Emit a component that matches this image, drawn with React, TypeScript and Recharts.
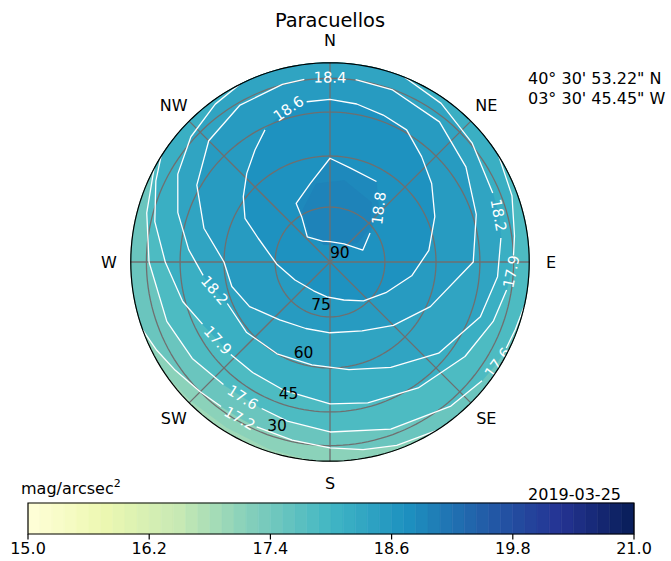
import React from 'react';
import { ScatterChart, Scatter, XAxis, YAxis, ReferenceArea } from 'recharts';

// sky positions are [azimuth deg, altitude deg]
type Pt = [number, number];

const TITLE = 'Paracuellos';
const LATITUDE = '40° 30\' 53.22" N';
const LONGITUDE = '03° 30\' 45.45" W';
const DATE = '2019-03-25';
const UNIT = 'mag/arcsec';

const HORIZON_ALT = 20;
const DIRECTIONS = ['N', 'NE', 'E', 'SE', 'S', 'SW', 'W', 'NW'];
const DIRECTION_AZ = [0, 45, 90, 135, 180, 225, 270, 315];
const RING_ALTS = [75, 60, 45, 30];
const RING_LABELS = [90, 75, 60, 45, 30];
const RING_LABEL_AZ = 200;

const CBAR_MIN = 15;
const CBAR_MAX = 21;
const CBAR_TICKS = [15.0, 16.2, 17.4, 18.6, 19.8, 21.0];
const CBAR_BANDS = 50;
const YLGNBU = ['#ffffd9', '#edf8b1', '#c7e9b4', '#7fcdbb', '#41b6c4', '#1d91c0', '#225ea8', '#253494', '#081d58'];

// contour lines; the point used for the inline label is part of each list
const C188: Pt[] = [[54, 76.5], [70, 80.5], [38, 83.8], [0, 84.5], [340, 84], [318, 80.8], [328, 75.4], [330, 71.4], [346, 67.5], [0, 60.7], [12, 63], [30, 64], [42, 70]];
const C186: Pt[] = [[351.7, 40.2], [0, 39.9], [9.6, 40.9], [19.9, 42.5], [30.1, 43.9], [41, 48.8], [52.3, 52.7], [66.6, 57.4], [83.3, 62], [99.6, 67], [118.8, 72.5], [139.2, 76], [160, 79], [185, 80.5], [209.7, 81], [242.8, 79.3], [267.9, 75.4], [288.3, 69.1], [297.2, 63.2], [307, 59.2], [316.8, 55], [326.2, 50.5], [333.8, 46], [344.8, 41.3]];
const C184: Pt[] = [[8, 29.7], [20, 30.3], [38, 33], [55, 38.5], [72, 43.5], [90, 47.5], [114, 58.8], [135, 65], [155, 69], [180, 70.5], [200, 70.5], [221, 68.8], [241, 64.3], [256, 61.5], [270, 60], [285, 52], [300, 43.5], [315, 36], [330, 31.5], [345, 29.8], [352, 29.5], [0, 29.3]];
const C182: Pt[] = [[22, 20], [35, 24], [50, 29], [67, 33.5], [74.5, 34.2], [82, 35.5], [95, 37.5], [110, 41], [130, 48], [150, 55], [170, 59], [190, 60.5], [210, 60], [230, 59], [248, 58.5], [256.3, 56], [264, 53], [275, 48], [288, 41], [300, 34], [312, 28], [324, 23], [333, 20]];
const C179: Pt[] = [[58, 20], [70, 24], [82, 28.5], [88, 30], [93, 31.3], [99, 32.5], [110, 35], [125, 39], [145, 43.5], [165, 46.5], [180, 48], [200, 50], [215, 50.5], [227, 50.2], [235.1, 49.9], [244, 48], [255, 44], [270, 39], [283, 32], [295, 25], [302, 20]];
const C176: Pt[] = [[103, 20], [110, 21.5], [116, 22.3], [121, 23], [128, 24.5], [140, 27.5], [160, 33], [180, 36.7], [195, 39], [205, 40.3], [212.8, 40.7], [221, 40], [235, 37.5], [250, 35], [270, 31.4], [285, 26.5], [298, 20]];
const C172: Pt[] = [[148, 20], [160, 23], [170, 26], [180, 28.7], [192, 30.8], [204, 31.7], [210, 31.8], [217, 31.4], [225, 30], [235, 27], [243, 23.5], [250, 20]];

// filled-only bands (no drawn line)
const F169: Pt[] = [[185, 20], [198, 22], [212, 23], [225, 22], [236, 20]];
const F189: Pt[] = [[10, 67], [35, 70], [50, 76], [55, 81], [20, 85], [340, 85], [325, 80], [332, 74], [350, 68]];

const CONTOURS = [
  { level: 18.8, pts: C188, labels: [12], closed: true },
  { level: 18.6, pts: C186, labels: [23], closed: true },
  { level: 18.4, pts: C184, labels: [21], closed: true },
  { level: 18.2, pts: C182, labels: [4, 15], closed: false },
  { level: 17.9, pts: C179, labels: [4, 14], closed: false },
  { level: 17.6, pts: C176, labels: [3, 10], closed: false },
  { level: 17.2, pts: C172, labels: [6], closed: false },
];

// band value painted above each boundary, lowest first
const FILLS = [
  { pts: F169, closed: false, value: 17.12 },
  { pts: C172, closed: false, value: 17.5 },
  { pts: C176, closed: false, value: 17.85 },
  { pts: C179, closed: false, value: 18.15 },
  { pts: C182, closed: false, value: 18.36 },
  { pts: C184, closed: true, value: 18.55 },
  { pts: C186, closed: true, value: 18.73 },
  { pts: C188, closed: true, value: 18.87 },
  { pts: F189, closed: true, value: 18.96 },
];
const DISC_VALUE = 16.92;

const FONT = '"DejaVu Sans", sans-serif';
const GRID = '#6f6f6f';

const hex = (c: string) => [1, 3, 5].map(i => parseInt(c.slice(i, i + 2), 16));
function cmap(v: number) {
  const t = Math.min(1, Math.max(0, (v - CBAR_MIN) / (CBAR_MAX - CBAR_MIN))) * (YLGNBU.length - 1);
  const i = Math.min(YLGNBU.length - 2, Math.floor(t));
  const f = t - i;
  const a = hex(YLGNBU[i]);
  const b = hex(YLGNBU[i + 1]);
  const c = a.map((x, k) => Math.round(x + (b[k] - x) * f));
  return `rgb(${c[0]},${c[1]},${c[2]})`;
}

const rad = (d: number) => (d * Math.PI) / 180;
const toXY = ([az, alt]: Pt) => {
  const r = Math.cos(rad(alt));
  return { x: r * Math.sin(rad(az)), y: r * Math.cos(rad(az)) };
};

function arc(alt: number, from: number, to: number): Pt[] {
  const out: Pt[] = [];
  for (let az = from; az < to; az += 2) out.push([az, alt]);
  out.push([to, alt]);
  return out;
}

function region(pts: Pt[], closed: boolean): Pt[] {
  if (closed) return pts;
  const a0 = pts[0][0];
  const a1 = pts[pts.length - 1][0];
  return [...pts, ...arc(HORIZON_ALT, a1, a0 + 360)];
}

function runs(pts: Pt[], labels: number[]): Pt[][] {
  const out: Pt[][] = [];
  let start = 0;
  labels.forEach(i => {
    out.push(pts.slice(start, i));
    start = i + 1;
  });
  if (start < pts.length) out.push(pts.slice(start));
  return out.filter(r => r.length > 1);
}

function labelAngle(a: Pt, b: Pt) {
  const p = toXY(a);
  const q = toXY(b);
  let deg = (Math.atan2(-(q.y - p.y), q.x - p.x) * 180) / Math.PI;
  if (deg > 90) deg -= 180;
  if (deg < -90) deg += 180;
  return deg;
}

const pathOf = (pts: { x: number; y: number }[], close: boolean) =>
  pts.map((p, i) => `${i ? 'L' : 'M'}${p.x},${p.y}`).join(' ') + (close ? ' Z' : '');

const noMarker = () => <g />;

function area(key: string, pts: Pt[], fill: string) {
  return (
    <Scatter
      key={key}
      data={pts.map(toXY)}
      isAnimationActive={false}
      shape={noMarker}
      line={(p: any) => <path d={pathOf(p.points, true)} fill={fill} stroke={fill} strokeWidth={0.6} />}
    />
  );
}

function polyline(key: string, pts: Pt[], stroke: string, width: number) {
  return (
    <Scatter
      key={key}
      data={pts.map(toXY)}
      isAnimationActive={false}
      shape={noMarker}
      line={(p: any) => (
        <path d={pathOf(p.points, false)} fill="none" stroke={stroke} strokeWidth={width} strokeLinejoin="round" />
      )}
    />
  );
}

const contourLabels = CONTOURS.flatMap(c =>
  c.labels.map(i => {
    const prev = c.pts[i - 1];
    const next = c.pts[i + 1] ?? c.pts[0];
    return { ...toXY(c.pts[i]), text: c.level.toFixed(1), angle: labelAngle(prev, next) };
  })
);

const compassData = DIRECTIONS.map((d, i) => {
  const a = rad(DIRECTION_AZ[i]);
  const r = 1.0425;
  return { x: r * Math.sin(a), y: r * Math.cos(a), text: d };
});

const ringLabelData = RING_LABELS.map(v => ({ ...toXY([RING_LABEL_AZ, v]), text: String(v) }));

const bands = Array.from({ length: CBAR_BANDS }, (_, i) => {
  const step = (CBAR_MAX - CBAR_MIN) / CBAR_BANDS;
  const x1 = CBAR_MIN + i * step;
  return { x1, x2: x1 + step, color: cmap(x1 + step / 2) };
});

const SkyMap = () => (
  <ScatterChart width={671} height={561} margin={{ top: 7.6, right: 86.6, bottom: 44.6, left: 75.6 }}>
    <XAxis type="number" dataKey="x" domain={[-1.2, 1.2]} hide />
    <YAxis type="number" dataKey="y" domain={[-1.2, 1.2]} hide />

    {area('disc', arc(HORIZON_ALT, 0, 360), cmap(DISC_VALUE))}
    {FILLS.map((f, i) => area(`fill-${i}`, region(f.pts, f.closed), cmap(f.value)))}

    {RING_ALTS.map(a => polyline(`ring-${a}`, arc(a, 0, 360), GRID, 1.3))}
    {DIRECTION_AZ.slice(0, 4).map(az =>
      polyline(`spoke-${az}`, [[az, HORIZON_ALT], [az + 180, HORIZON_ALT]], GRID, 1.3)
    )}

    {CONTOURS.flatMap(c => runs(c.pts, c.labels).map((r, j) => polyline(`c-${c.level}-${j}`, r, '#ffffff', 1.3)))}

    <Scatter
      data={contourLabels}
      isAnimationActive={false}
      shape={(p: any) => (
        <text
          x={p.cx}
          y={p.cy}
          textAnchor="middle"
          dominantBaseline="central"
          fill="#ffffff"
          fontSize={14.8}
          fontFamily={FONT}
          transform={`rotate(${p.payload.angle} ${p.cx} ${p.cy})`}
        >
          {p.payload.text}
        </text>
      )}
    />

    <Scatter
      data={ringLabelData}
      isAnimationActive={false}
      shape={(p: any) => (
        <text x={p.cx} y={p.cy - 3.6} textAnchor="start" fill="#000" fontSize={15.5} fontFamily={FONT}>
          {p.payload.text}
        </text>
      )}
    />

    {polyline('horizon', arc(HORIZON_ALT, 0, 360), '#000000', 1.2)}

    <Scatter
      data={compassData}
      isAnimationActive={false}
      shape={(p: any) => (
        <text x={p.cx} y={p.cy} textAnchor="middle" dominantBaseline="central" fill="#000" fontSize={16} fontFamily={FONT}>
          {p.payload.text}
        </text>
      )}
    />
  </ScatterChart>
);

const ColorBar = () => (
  <ScatterChart width={671} height={71} margin={{ top: 13, right: 37, bottom: 0, left: 28 }}>
    <XAxis
      type="number"
      dataKey="x"
      domain={[CBAR_MIN, CBAR_MAX]}
      ticks={CBAR_TICKS}
      interval={0}
      height={27}
      tickFormatter={(v: number) => v.toFixed(1)}
      axisLine={false}
      tickSize={5.5}
      tickMargin={3}
      tickLine={{ stroke: '#000', strokeWidth: 1.2 }}
      tick={{ fill: '#000', fontSize: 16, fontFamily: FONT }}
    />
    <YAxis type="number" dataKey="y" domain={[0, 1]} hide />
    {bands.map((b, i) => (
      <ReferenceArea key={i} x1={b.x1} x2={b.x2} y1={0} y2={1} fill={b.color} fillOpacity={1} stroke={b.color} strokeWidth={0.6} />
    ))}
    <ReferenceArea x1={CBAR_MIN} x2={CBAR_MAX} y1={0} y2={1} fill="none" stroke="#000" strokeWidth={1.2} />
    <Scatter data={CBAR_TICKS.map(x => ({ x, y: 0.5 }))} isAnimationActive={false} shape={noMarker} />
  </ScatterChart>
);

export default function App() {
  return (
    <div style={{ position: 'absolute', left: 0, top: 0, width: 671, height: 561, background: '#fff', fontFamily: FONT }}>
      <div style={{ position: 'absolute', left: 0, top: 0 }}>
        <SkyMap />
      </div>
      <div style={{ position: 'absolute', left: 0, top: 490 }}>
        <ColorBar />
      </div>
      <svg width={671} height={561} style={{ position: 'absolute', left: 0, top: 0, pointerEvents: 'none' }}>
        <text x={330} y={27} textAnchor="middle" fontSize={19.4} fontFamily={FONT} fill="#000">
          {TITLE}
        </text>
        <text x={528} y={84} fontSize={16} fontFamily={FONT} fill="#000">
          {LATITUDE}
        </text>
        <text x={528} y={104} fontSize={16} fontFamily={FONT} fill="#000">
          {LONGITUDE}
        </text>
        <text x={21} y={494} fontSize={16} fontFamily={FONT} fill="#000">
          {UNIT}
          <tspan dy={-7} fontSize={11}>2</tspan>
        </text>
        <text x={621} y={500} textAnchor="end" fontSize={16} fontFamily={FONT} fill="#000">
          {DATE}
        </text>
      </svg>
    </div>
  );
}
